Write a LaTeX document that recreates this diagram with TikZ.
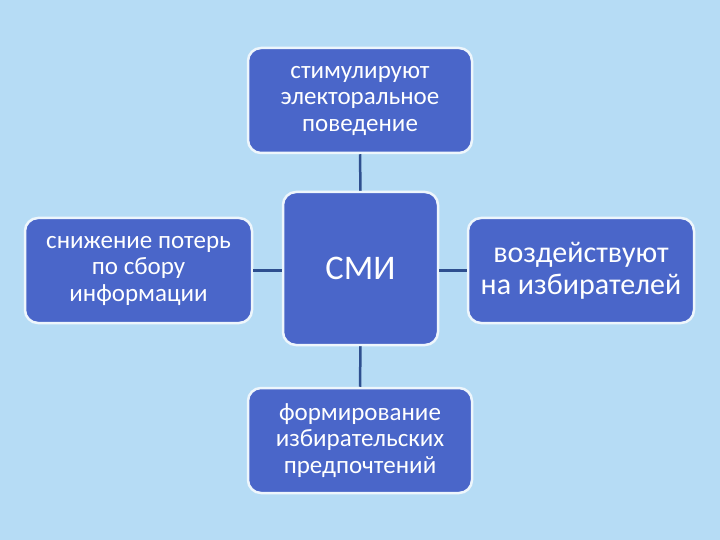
\documentclass[tikz,border=0pt]{standalone}
\usepackage{fontspec}
\setmainfont{Carlito}
\definecolor{bgc}{HTML}{B6DCF5}
\definecolor{boxc}{HTML}{4A66C9}
\definecolor{linec}{HTML}{2E4F8F}
\definecolor{edgec}{HTML}{EEF6FC}
\begin{document}
\begin{tikzpicture}[x=1pt,y=-1pt,
  box/.style={draw=edgec, line width=2.5pt, fill=boxc, rounded corners=13pt,
    text=white, align=center, inner sep=0pt, font=\fontsize{25}{26.5}\selectfont},
  conn/.style={draw=linec, line width=2.5pt}]
\fill[bgc] (0,0) rectangle (720,540);
\useasboundingbox (0,0) rectangle (720,540);
\node[box, minimum width=224pt, minimum height=105pt] (top) at (360,100.5) {стимулируют\\электоральное\\поведение};
\node[box, minimum width=155pt, minimum height=153pt, font=\fontsize{34.5}{38}\selectfont] (c) at (360.5,268.5) {СМИ};
\node[box, minimum width=227pt, minimum height=105pt] (l) at (138.5,270.5) {снижение потерь\\по сбору\\информации};
\node[box, minimum width=226pt, minimum height=105pt, font=\fontsize{30}{32}\selectfont] (r) at (581,270.5) {воздействуют\\на избирателей};
\node[box, minimum width=224pt, minimum height=105pt] (b) at (360,440.5) {формирование\\избирательских\\предпочтений};
\draw[conn] (top.south) -- (c.north);
\draw[conn] (c.south) -- (b.north);
\draw[conn] (l.east) -- (l.east -| c.west);
\draw[conn] (r.west) -- (r.west -| c.east);
\end{tikzpicture}
\end{document}
